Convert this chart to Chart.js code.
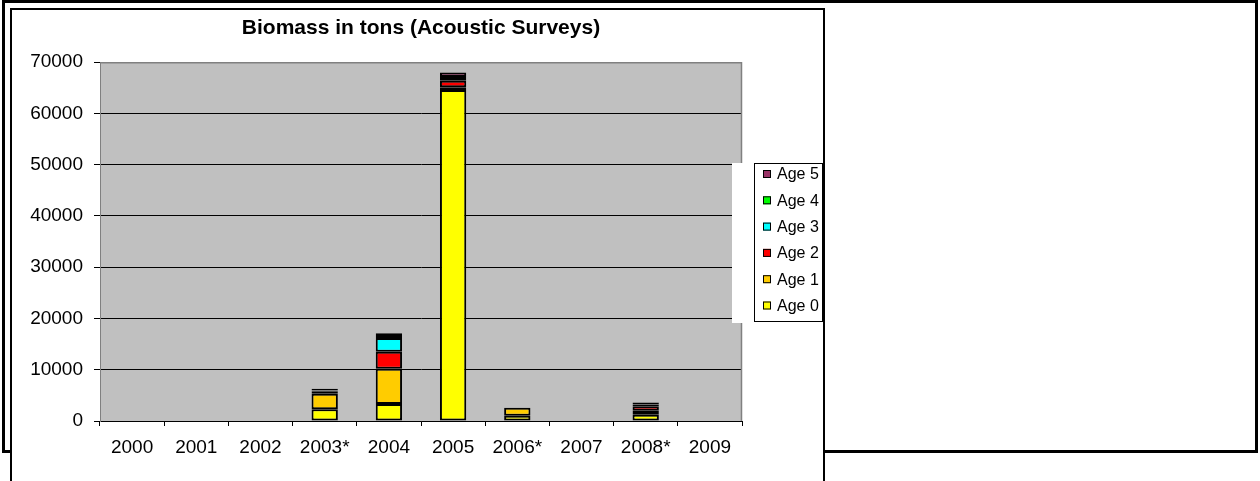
<!DOCTYPE html>
<html>
<head>
<meta charset="utf-8">
<script src="https://cdn.jsdelivr.net/npm/chart.js@4.4.1/dist/chart.umd.min.js"></script>
<style>
  body { margin: 0; background: #fff; width: 1260px; height: 481px; overflow: hidden; position: relative; }
  #outer { position: absolute; left: 2px; top: 0; width: 1250px; height: 447px; border: 3px solid #000; }
  #frame { position: absolute; left: 10px; top: 8px; width: 811px; height: 480px; border: 2px solid #000; background: #fff; }
  #frame canvas { display: block; }
</style>
</head>
<body>
<div id="outer"></div>
<div id="frame"><canvas id="chart" width="811" height="472"></canvas></div>
<script>
// Survey years (x axis)
const years = ['2000', '2001', '2002', '2003*', '2004', '2005', '2006*', '2007', '2008*', '2009'];

// Biomass per age class, tons
const age0 = [null, null, null, 2300, 3300, 64600, 1000, null, 1200, null];
const age1 = [null, null, null, 3000, 6900, 500, 1600, null, 800, null];
const age2 = [null, null, null, 500, 3300, 1300, null, null, 900, null];
const age3 = [null, null, null, 100, 2700, 500, null, null, 200, null];
const age4 = [null, null, null, 100, 400, 200, null, null, 100, null];
const age5 = [null, null, null, 300, 500, 900, null, null, 400, null];

const ageLabels = ['Age 0', 'Age 1', 'Age 2', 'Age 3', 'Age 4', 'Age 5'];
const ageColors = ['#FFFF00', '#FFCC00', '#FF0000', '#00FFFF', '#00FF00', '#993366'];
const ageSeries = [age0, age1, age2, age3, age4, age5];

const FONT = "'Liberation Sans', Arial, sans-serif";

// gray plot area + its border, legend box drawn by hand (Excel style)
const excelLook = {
    id: 'excelLook',
    beforeDraw(chart) {
        const a = chart.chartArea;
        const ctx = chart.ctx;
        ctx.save();
        ctx.fillStyle = '#C0C0C0';
        ctx.fillRect(a.left, a.top, a.right - a.left, a.bottom - a.top);
        ctx.restore();
    },
    afterDatasetsDraw(chart) {
        const a = chart.chartArea;
        const ctx = chart.ctx;
        ctx.save();
        ctx.strokeStyle = '#808080';
        ctx.lineWidth = 1.5;
        ctx.beginPath();
        ctx.moveTo(a.left, a.top + 0.5);
        ctx.lineTo(a.right - 0.5, a.top + 0.5);
        ctx.lineTo(a.right - 0.5, a.bottom);
        ctx.stroke();
        ctx.restore();
    },
    afterDraw(chart) {
        const ctx = chart.ctx;
        const sets = chart.data.datasets;
        ctx.save();
        ctx.fillStyle = '#fff';
        ctx.fillRect(720, 153, 90, 160);
        ctx.strokeStyle = '#000';
        ctx.lineWidth = 1;
        ctx.strokeRect(742.5, 153.5, 68, 158);
        ctx.font = '16px ' + FONT;
        ctx.textBaseline = 'middle';
        for (let i = 0; i < sets.length; i++) {
            const ds = sets[sets.length - 1 - i];
            const y = 164 + i * 26.3;
            ctx.fillStyle = ds.backgroundColor;
            ctx.fillRect(751, y - 4, 8, 8);
            ctx.strokeRect(751.5, y - 3.5, 7, 7);
            ctx.fillStyle = '#000';
            ctx.fillText(ds.label, 765, y + 1);
        }
        ctx.restore();
    }
};

new Chart(document.getElementById('chart'), {
    type: 'bar',
    data: {
        labels: years,
        datasets: ageSeries.map((vals, i) => ({
            label: ageLabels[i],
            data: vals,
            backgroundColor: ageColors[i],
            borderColor: '#000',
            borderWidth: 2,
            borderSkipped: false,
            barPercentage: 0.41,
            categoryPercentage: 1
        }))
    },
    options: {
        responsive: false,
        animation: false,
        layout: { padding: { left: 16, right: 81, top: 0, bottom: 0 } },
        plugins: {
            legend: { display: false },
            tooltip: { enabled: false },
            title: {
                display: true,
                fullSize: false,
                text: 'Biomass in tons (Acoustic Surveys)',
                color: '#000',
                font: { family: FONT, size: 21, weight: 'bold', lineHeight: 1.2 },
                padding: { top: 6, bottom: 21 }
            }
        },
        scales: {
            x: {
                stacked: true,
                offset: true,
                grid: { offset: true, drawOnChartArea: false, drawTicks: true, tickLength: 5, color: '#000' },
                border: { color: '#000', width: 1 },
                ticks: { color: '#000', padding: 10, font: { family: FONT, size: 19 }, maxRotation: 0 },
                afterFit(scale) { scale.height = 61; }
            },
            y: {
                stacked: true,
                min: 0,
                max: 70000,
                grid: {
                    color: ctx => ctx.tick && ctx.tick.value === 70000 ? '#808080' : '#000',
                    tickColor: '#000',
                    tickLength: 6,
                    lineWidth: 1
                },
                border: { color: '#808080', width: 1 },
                ticks: {
                    stepSize: 10000,
                    color: '#000',
                    padding: 11,
                    font: { family: FONT, size: 19 },
                    callback: v => String(v)
                },
                afterFit(scale) { scale.width = 72; }
            }
        }
    },
    plugins: [excelLook]
});
</script>
</body>
</html>
